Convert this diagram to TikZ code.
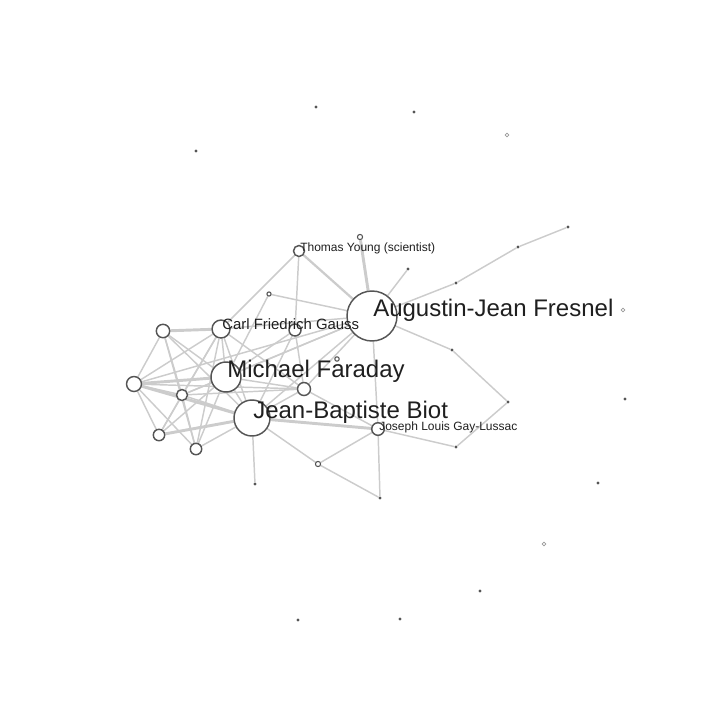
\documentclass[tikz,border=0pt]{standalone}
\usepackage{fontspec}
\setmainfont{Liberation Sans}
\pgfdeclarelayer{bg}
\pgfsetlayers{bg,main}
\definecolor{ndc}{HTML}{555555}
\definecolor{edc}{HTML}{CCCCCC}
\definecolor{hlc}{HTML}{999999}
\begin{document}
\begin{tikzpicture}[x=0.75pt,y=-0.75pt,
  pn/.style={circle, draw=ndc, fill=white, line width=1.1pt, inner sep=0pt, minimum size=#1*1.5pt},
  hn/.style={circle, draw=ndc, fill=white, line width=0.8pt, inner sep=0pt, minimum size=#1*1.5pt},
  dn/.style={circle, fill=ndc, inner sep=0pt, minimum size=2.4pt},
  lh/.style={circle, draw=hlc, fill=white, line width=0.5pt, inner sep=0pt, minimum size=2.8pt},
  ed/.style={draw=edc, line width=1.1pt},
  et/.style={draw=edc, line width=2.2pt},
  lab/.style={anchor=base west, inner sep=0pt, text=black!88}]
\useasboundingbox (0,0) rectangle (728,728);
% main nodes
\node[pn=25] (F) at (372,316) {};
\node[pn=15] (M) at (226,377) {};
\node[pn=18] (B) at (252,418) {};
\node[pn=9] (G) at (221,329) {};
\node[pn=5.5] (Y) at (299,251) {};
\node[pn=6.3] (GL) at (378,429) {};
\node[pn=6] (P) at (295,330) {};
\node[pn=6.5] (Q) at (304,389) {};
\node[pn=6.7] (L1) at (163,331) {};
\node[pn=7.5] (L2) at (134,384) {};
\node[pn=5.5] (L3) at (182,395) {};
\node[pn=5.7] (L4) at (159,435) {};
\node[pn=5.7] (L5) at (196,449) {};
% small nodes
\node[hn=2.6] (s360) at (360,237) {};
\node[hn=2.1] (s269) at (269,294) {};
\node[hn=2.6] (s318) at (318,464) {};
\node[hn=2.2] (s337) at (337,359) {};
\node[dn] (d380) at (380,498) {};
\node[dn] (d255) at (255,484) {};
\node[dn] (d408) at (408,269) {};
\node[dn] (d456a) at (456,283) {};
\node[dn] (d518) at (518,247) {};
\node[dn] (d568) at (568,227) {};
\node[dn] (d452) at (452,350) {};
\node[dn] (d508) at (508,402) {};
\node[dn] (d456b) at (456,447) {};
\node[lh] (h624) at (623,310) {};
\node[dn] (d625) at (625,399) {};
\node[dn] (d598) at (598,483) {};
\node[lh] (h544) at (544,544) {};
\node[dn] (d480) at (480,591) {};
\node[dn] (d400) at (400,619) {};
\node[dn] (d298) at (298,620) {};
\node[dn] (d316) at (316,107) {};
\node[dn] (d414) at (414,112) {};
\node[lh] (h506) at (507,135) {};
\node[dn] (d196) at (196,151) {};
\begin{pgfonlayer}{bg}
% Fresnel
\draw[et] (F) -- (s360);
\draw[ed, line width=1.7pt] (F) -- (Y);
\draw[ed] (F) -- (d408);
\draw[ed] (F) -- (d456a);
\draw[ed] (d456a) -- (d518);
\draw[ed] (d518) -- (d568);
\draw[ed] (F) -- (d452);
\draw[ed] (d452) -- (d508);
\draw[ed] (d508) -- (d456b);
\draw[ed] (d456b) -- (GL);
\draw[ed] (F) -- (s269);
\draw[ed] (F) -- (GL);
\draw[ed] (F) -- (G);
\draw[ed] (F) -- (M);
\draw[ed] (F) -- (B);
\draw[ed] (F) -- (Q);
\draw[ed] (F) -- (L3);
\draw[ed] (F) -- (L2);
% Young
\draw[ed] (Y) -- (G);
\draw[ed] (Y) -- (P);
\draw[ed] (s269) -- (M);
% Gauss
\draw[et] (G) -- (L1);
\draw[ed] (G) -- (L2);
\draw[ed] (G) -- (L3);
\draw[ed] (G) -- (L4);
\draw[ed] (G) -- (L5);
\draw[ed] (G) -- (M);
\draw[ed] (G) -- (B);
\draw[ed] (G) -- (Q);
% left cluster
\draw[ed] (L1) -- (L2);
\draw[ed] (L1) -- (L3);
\draw[ed] (L1) -- (L5);
\draw[ed] (L1) -- (M);
\draw[ed] (L1) -- (B);
\draw[ed] (L2) -- (L3);
\draw[ed] (L2) -- (L4);
\draw[ed] (L2) -- (L5);
\draw[et] (L2) -- (M);
\draw[et] (L2) -- (B);
\draw[ed] (L2) -- (Q);
\draw[ed] (L3) -- (L4);
\draw[ed] (L3) -- (L5);
\draw[ed] (L3) -- (M);
\draw[ed] (L3) -- (B);
\draw[ed] (L3) -- (Q);
\draw[et] (L4) -- (B);
\draw[ed] (L4) -- (M);
\draw[ed] (L5) -- (M);
\draw[ed] (L5) -- (B);
% Faraday / Biot
\draw[ed] (M) -- (B);
\draw[ed] (M) -- (Q);
\draw[ed] (M) -- (P);
\draw[ed] (B) -- (P);
\draw[ed] (B) -- (Q);
\draw[et] (B) -- (GL);
\draw[ed] (B) -- (s318);
\draw[ed] (B) -- (d255);
\draw[ed] (P) -- (Q);
\draw[ed] (Q) -- (GL);
\draw[ed] (GL) -- (s318);
\draw[ed] (GL) -- (d380);
\draw[ed] (s318) -- (d380);
\end{pgfonlayer}
% labels
\node[lab, font=\fontsize{18}{20}\selectfont] (tF) at ([xshift=0.75pt]F.center) {Augustin-Jean Fresnel};
\node[lab, font=\fontsize{18}{20}\selectfont] (tM) at ([xshift=0.75pt]M.center) {Michael Faraday};
\node[lab, font=\fontsize{18}{20}\selectfont] (tB) at ([xshift=0.75pt]B.center) {Jean-Baptiste Biot};
\node[lab, font=\fontsize{11.2}{13}\selectfont] (tG) at ([xshift=0.75pt]G.center) {Carl Friedrich Gauss};
\node[lab, font=\fontsize{9}{11}\selectfont] (tY) at ([xshift=0.75pt]Y.center) {Thomas Young (scientist)};
\node[lab, font=\fontsize{9}{11}\selectfont] (tGL) at ([xshift=0.75pt,yshift=-1.2pt]GL.center) {Joseph Louis Gay-Lussac};
\end{tikzpicture}
\end{document}
